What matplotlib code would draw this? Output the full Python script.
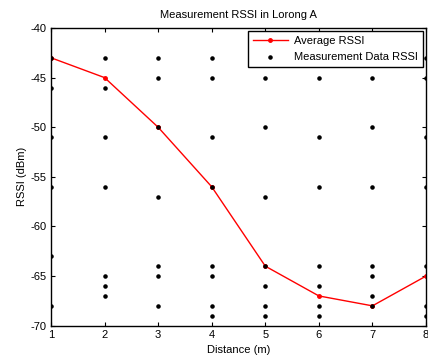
import matplotlib
matplotlib.use('Agg')
import matplotlib.pyplot as plt

# Distance points and average RSSI
distance = [1, 2, 3, 4, 5, 6, 7, 8]
avg_rssi = [-43, -45, -50, -56, -64, -67, -68, -65]

# Raw measurement values at each distance
meas = {
    1: [-43, -46, -51, -56, -63, -68],
    2: [-43, -46, -51, -56, -65, -66, -67],
    3: [-43, -45, -50, -57, -64, -65, -68],
    4: [-43, -45, -51, -56, -64, -65, -68, -69],
    5: [-43, -45, -50, -57, -64, -66, -68, -69],
    6: [-43, -45, -51, -56, -64, -66, -68, -69],
    7: [-43, -45, -50, -56, -64, -65, -67, -68],
    8: [-43, -45, -51, -56, -64, -68, -69],
}

meas_x = []
meas_y = []
for d, vals in meas.items():
    for v in vals:
        meas_x.append(d)
        meas_y.append(v)

plt.rcParams['font.family'] = ['Liberation Sans', 'DejaVu Sans']
plt.rcParams['axes.unicode_minus'] = False

fig = plt.figure(figsize=(4.28, 3.58), dpi=100)
ax = fig.add_axes([51 / 428, 1 - 325.7 / 358, 375 / 428, (325.7 - 28) / 358])

ax.plot(distance, avg_rssi, '-', color='red', marker='.', markersize=5, linewidth=1,
        label='Average RSSI')
ax.plot(meas_x, meas_y, '.', color='black', markersize=4.5, label='Measurement Data RSSI')

ax.set_xlim(1, 8)
ax.set_ylim(-70, -40)
ax.set_xticks(range(1, 9))
ax.set_yticks(range(-70, -39, 5))
ax.tick_params(direction='in', top=True, right=True, labelsize=8, length=3, pad=3)
for s in ax.spines.values():
    s.set_linewidth(1)

ax.set_title('Measurement RSSI in Lorong A', fontsize=8, pad=7)
ax.set_xlabel('Distance (m)', fontsize=8, labelpad=4)
ax.set_ylabel('RSSI (dBm)', fontsize=8, labelpad=3)

leg = ax.legend(loc='upper right', fontsize=8, fancybox=False, framealpha=1,
                edgecolor='black', borderaxespad=0.3, handlelength=3.2,
                borderpad=0.45, labelspacing=0.55, handletextpad=0.5)
leg.get_frame().set_linewidth(1)

fig.savefig('out.png', dpi=100)
